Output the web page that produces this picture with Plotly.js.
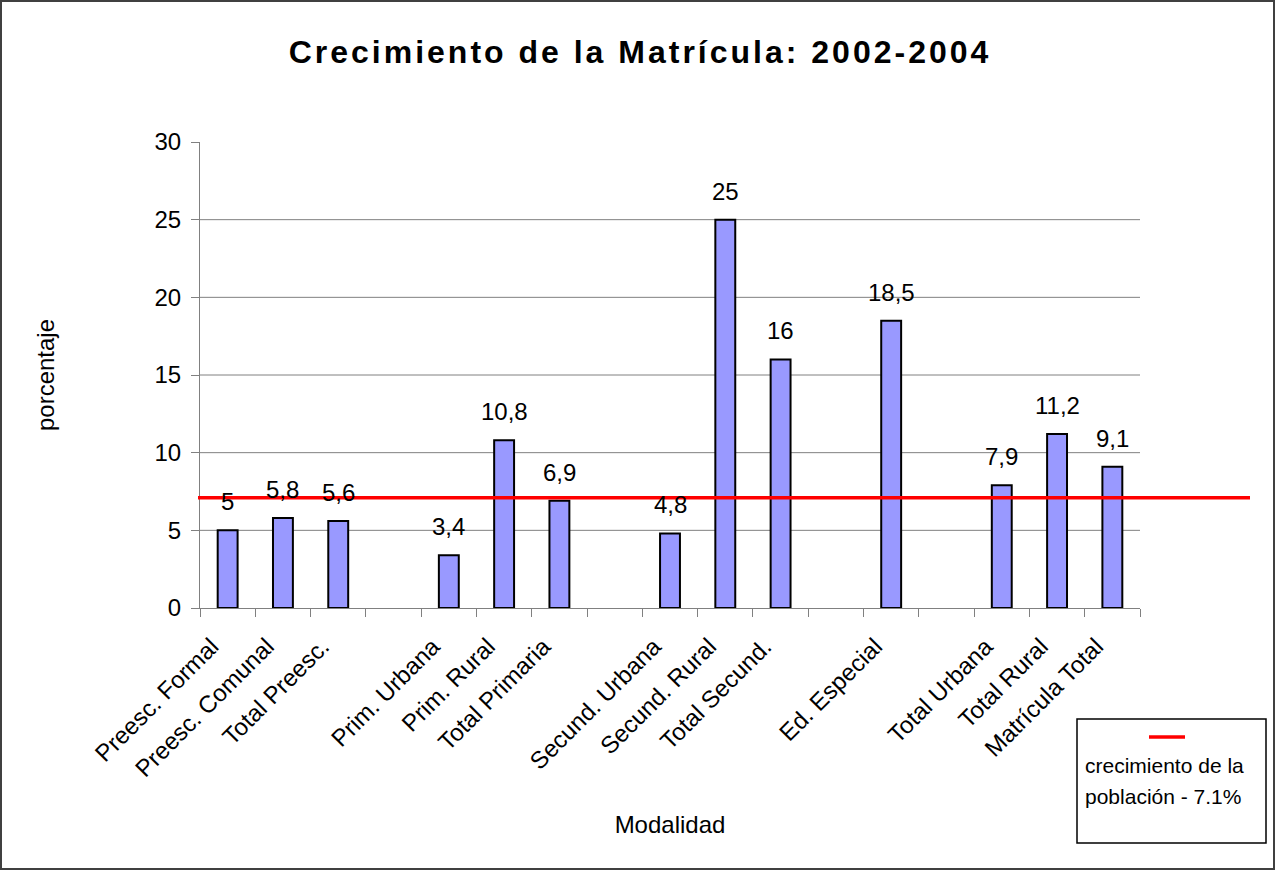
<!DOCTYPE html>
<html>
<head>
<meta charset="utf-8">
<script src="https://cdn.plot.ly/plotly-3.0.1.min.js"></script>
<style>
  html, body { margin: 0; padding: 0; background: #ffffff; }
  #chart { width: 1275px; height: 870px; }
  #chart text.gtitle { letter-spacing: 3px; }
</style>
</head>
<body>
<div id="chart"></div>
<script>
// ---- data ----
const categories = [
  "Preesc. Formal", "Preesc. Comunal", "Total Preesc.", " ",
  "Prim. Urbana", "Prim. Rural", "Total Primaria", "  ",
  "Secund. Urbana", "Secund. Rural", "Total Secund.", "   ",
  "Ed. Especial", "    ",
  "Total Urbana", "Total Rural", "Matrícula Total"
];
const values = [
  5, 5.8, 5.6, null,
  3.4, 10.8, 6.9, null,
  4.8, 25, 16, null,
  18.5, null,
  7.9, 11.2, 9.1
];
const yTickVals = [0, 5, 10, 15, 20, 25, 30];
const gridVals = [5, 10, 15, 20, 25];
const popGrowth = 7.1;
const legendLines = ["crecimiento de la", "población - 7.1%"];
const titleText = "Crecimiento de la Matrícula: 2002-2004";
const xTitle = "Modalidad";
const yTitle = "porcentaje";

// ---- layout geometry ----
const W = 1275, H = 870;
const M = { l: 200, r: 135, t: 142, b: 262 };
const PW = W - M.l - M.r, PH = H - M.t - M.b;
const px = x => (x - M.l) / PW;          // pixel x -> paper x
const py = y => (H - M.b - y) / PH;      // pixel y -> paper y

const FONT = "Arial, 'Liberation Sans', sans-serif";
const FS = 24;

const labelText = v => String(v).replace(".", ",");

const annotations = [];
categories.forEach((c, i) => {
  if (values[i] === null) return;
  annotations.push({
    x: c, y: values[i], xref: "x", yref: "y",
    text: labelText(values[i]), showarrow: false,
    yanchor: "bottom", xanchor: "center", yshift: 13,
    font: { family: FONT, size: FS, color: "#000000" }
  });
});
// legend text
annotations.push({
  x: px(1083), y: py(765), xref: "paper", yref: "paper",
  text: legendLines[0], showarrow: false, xanchor: "left", yanchor: "middle",
  font: { family: FONT, size: 21, color: "#000000" }
});
annotations.push({
  x: px(1083), y: py(796), xref: "paper", yref: "paper",
  text: legendLines[1], showarrow: false, xanchor: "left", yanchor: "middle",
  font: { family: FONT, size: 21, color: "#000000" }
});

const shapes = [];
gridVals.forEach(g => {
  shapes.push({
    type: "line", xref: "paper", yref: "y", x0: 0, x1: 1, y0: g, y1: g,
    line: { color: "#808080", width: 1 }, layer: "below"
  });
});
// population growth reference line
shapes.push({
  type: "line", xref: "paper", yref: "y", x0: px(198), x1: px(1250),
  y0: popGrowth, y1: popGrowth, line: { color: "#ff0000", width: 3.5 }, layer: "above"
});
// legend box
shapes.push({
  type: "rect", xref: "paper", yref: "paper",
  x0: px(1077), x1: px(1266), y0: py(719), y1: py(843),
  line: { color: "#000000", width: 1.5 }, fillcolor: "rgba(0,0,0,0)"
});
shapes.push({
  type: "line", xref: "paper", yref: "paper",
  x0: px(1149), x1: px(1185), y0: py(737), y1: py(737),
  line: { color: "#ff0000", width: 3.5 }
});
// outer chart border
shapes.push({
  type: "rect", xref: "paper", yref: "paper",
  x0: px(1), x1: px(1274), y0: py(1), y1: py(869),
  line: { color: "#404040", width: 2 }, fillcolor: "rgba(0,0,0,0)"
});

const trace = {
  type: "bar",
  x: categories,
  y: values,
  marker: { color: "#9999ff", line: { color: "#000000", width: 2 } },
  hoverinfo: "x+y",
  showlegend: false
};

const layout = {
  width: W, height: H,
  margin: M,
  paper_bgcolor: "#ffffff",
  plot_bgcolor: "#ffffff",
  bargap: 0.64,
  showlegend: false,
  font: { family: FONT, size: FS, color: "#000000" },
  title: {
    text: "<b>" + titleText + "</b>",
    x: 640 / W, xanchor: "center", xref: "container",
    y: 1 - 52 / H, yanchor: "middle", yref: "container",
    font: { family: FONT, size: 32, color: "#000000" }
  },
  xaxis: {
    type: "category",
    categoryorder: "array", categoryarray: categories,
    range: [-0.5, categories.length - 0.5],
    tickson: "boundaries",
    ticks: "outside", ticklen: 8, tickcolor: "#808080", tickwidth: 1,
    ticklabelstandoff: 14, ticklabelshift: -16,
    showline: true, linecolor: "#808080", linewidth: 1,
    showgrid: false, zeroline: false,
    tickangle: -45,
    tickfont: { family: FONT, size: FS, color: "#000000" },
    title: { text: xTitle, standoff: 35, font: { family: FONT, size: FS, color: "#000000" } },
    automargin: false, fixedrange: true
  },
  yaxis: {
    range: [0, 30],
    tickvals: yTickVals,
    ticks: "outside", ticklen: 8, tickcolor: "#808080", tickwidth: 1,
    ticklabelstandoff: 5,
    showline: true, linecolor: "#808080", linewidth: 1,
    showgrid: false, zeroline: false,
    tickfont: { family: FONT, size: FS, color: "#000000" },
    title: { text: yTitle, standoff: 93, font: { family: FONT, size: FS, color: "#000000" } },
    automargin: false, fixedrange: true
  },
  shapes: shapes,
  annotations: annotations
};

Plotly.newPlot("chart", [trace], layout, { displayModeBar: false, staticPlot: true });
</script>
</body>
</html>
